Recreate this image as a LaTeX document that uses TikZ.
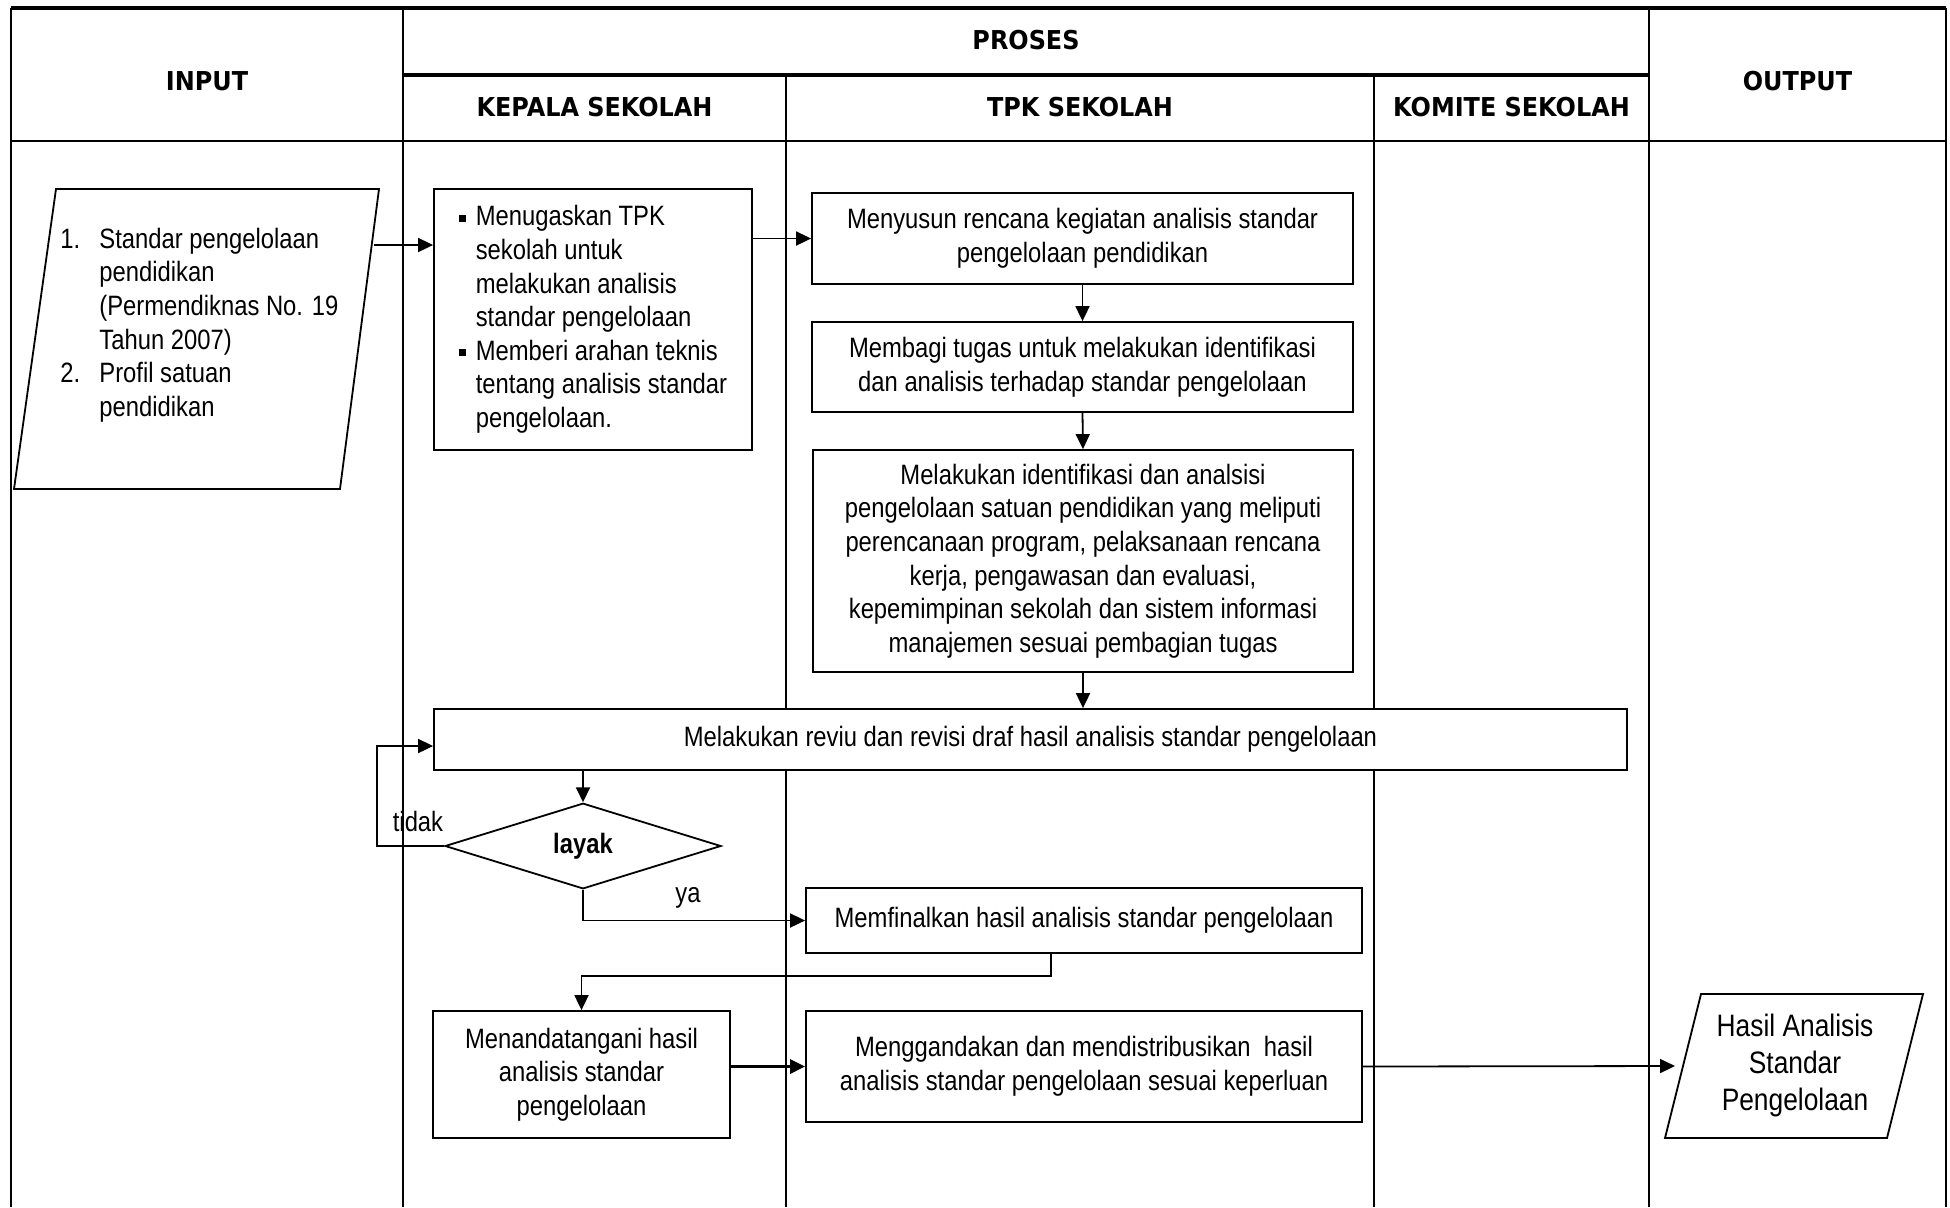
\documentclass[tikz,border=0pt]{standalone}
\usepackage{fontspec}
\setmainfont{Liberation Sans}[FakeStretch=0.85]
\newfontfamily\headfont{DejaVu Sans}[FakeStretch=0.92]
\usetikzlibrary{arrows.meta,shapes.geometric}
\newcommand{\bul}{\makebox[8.5pt][l]{\raisebox{0.28ex}{\rule{3.4pt}{3.4pt}}}}
\newcommand{\ind}{\hspace*{8.5pt}}
\newcommand{\numb}[1]{\makebox[19.5pt][l]{#1}}
\newcommand{\nind}{\hspace*{19.5pt}}
\begin{document}
\begin{tikzpicture}[x=0.5pt,y=-0.5pt,
  every node/.style={font=\fontsize{14}{16.8}\selectfont},
  hd/.style={font=\headfont\bfseries\fontsize{13}{15}\selectfont},
  box/.style={draw, fill=white, line width=0.9pt, inner sep=0pt, align=center},
  arr/.style={line width=0.9pt, -{Triangle[length=7.5pt,width=7pt]}},
  grid/.style={line width=0.9pt},
  thickgrid/.style={line width=2pt}]
\useasboundingbox (0,0) rectangle (1950,1207);
% table
\draw[thickgrid] (11,7.5) -- (1946,7.5);
\draw[thickgrid] (403,75) -- (1649,75);
\draw[grid] (11,141) -- (1946,141);
\draw[grid] (11,7.5) -- (11,1207);
\draw[grid] (403,7.5) -- (403,1207);
\draw[grid] (786,75) -- (786,1207);
\draw[grid] (1374,75) -- (1374,1207);
\draw[grid] (1649,7.5) -- (1649,1207);
\draw[grid] (1946,7.5) -- (1946,1207);
% headers
\node[hd] (hin) at (207,81) {INPUT};
\node[hd] (hproses) at (1026,40) {PROSES};
\node[hd] (hkepala) at (594.5,107) {KEPALA SEKOLAH};
\node[hd] (htpk) at (1080,107) {TPK SEKOLAH};
\node[hd] (hkomite) at (1511.5,107) {KOMITE SEKOLAH};
\node[hd] (hout) at (1797.5,81) {OUTPUT};
% input
\draw[line width=0.9pt, fill=white] (56,189) -- (379,189) -- (340,489) -- (14,489) -- cycle;
\node[anchor=west, align=left, inner sep=0pt] (intext) at (60,325)
  {\numb{1.}Standar pengelolaan\\ \nind pendidikan\\ \nind (Permendiknas No. 19\\ \nind Tahun 2007)\\ \numb{2.}Profil satuan\\ \nind pendidikan};
\coordinate (inR) at (374,245);
% kepala sekolah
\node[box, align=left, minimum width=159pt, minimum height=130.5pt] (k1) at (593,319.5)
  {\bul Menugaskan TPK\\ \ind sekolah untuk\\ \ind melakukan analisis\\ \ind standar pengelolaan\\ \bul Memberi arahan teknis\\ \ind tentang analisis standar\\ \ind pengelolaan.};
% tpk
\node[box, minimum width=270.5pt, minimum height=45.5pt] (t1) at (1082.5,238.5)
  {Menyusun rencana kegiatan analisis standar\\ pengelolaan pendidikan};
\node[box, minimum width=270.5pt, minimum height=45pt] (t2) at (1082.5,367)
  {Membagi tugas untuk melakukan identifikasi\\ dan analisis terhadap standar pengelolaan};
\node[box, minimum width=270pt, minimum height=111pt] (t3) at (1083,561)
  {Melakukan identifikasi dan analsisi\\ pengelolaan satuan pendidikan yang meliputi\\ perencanaan program, pelaksanaan rencana\\ kerja, pengawasan dan evaluasi,\\ kepemimpinan sekolah dan sistem informasi\\ manajemen sesuai pembagian tugas};
\node[box, minimum width=596.5pt, minimum height=30.5pt] (rev) at (1030.5,739.5)
  {Melakukan reviu dan revisi draf hasil analisis standar pengelolaan};
\node[draw, fill=white, line width=0.9pt, shape=diamond, inner sep=0pt, minimum width=138pt, minimum height=42.5pt, font=\bfseries\fontsize{14}{16.8}\selectfont] (dia) at (583,846) {layak};
\node (tidak) at (418,821) {tidak};
\node (ya) at (688,898) {ya};
\node[box, minimum width=278pt, minimum height=32.5pt] (memf) at (1084,920.5)
  {Memfinalkan hasil analisis standar pengelolaan};
\node[box, minimum width=148.5pt, minimum height=63.5pt] (mnd) at (581.5,1074.5)
  {Menandatangani hasil\\ analisis standar\\ pengelolaan};
\node[box, minimum width=278pt, minimum height=55.5pt] (mgd) at (1084,1066.5)
  {Menggandakan dan mendistribusikan\ \ hasil\\ analisis standar pengelolaan sesuai keperluan};
% output
\draw[line width=0.9pt, fill=white] (1701,994) -- (1923,994) -- (1887,1138) -- (1665,1138) -- cycle;
\node[align=center, font=\fontsize{15.5}{18.5}\selectfont] (outtext) at (1795,1065)
  {Hasil Analisis\\ Standar\\ Pengelolaan};
\coordinate (outL) at (1675,1066);
% connectors
\draw[arr] (inR) -- (k1.west |- inR);
\draw[arr] (k1.east |- t1.west) -- (t1.west);
\draw[arr] (t1.south) -- (t2.north);
\draw[arr] (t2.south) -- (t3.north);
\draw[arr] (t3.south) -- (t3.south |- rev.north);
\draw[arr] (rev.south -| dia.north) -- (dia.north);
\coordinate (tk) at (377,746);
\draw[arr] (dia.west) -| (tk) -- (rev.west |- tk);
\draw[arr] (dia.south) |- (memf.west);
\coordinate (mf1) at (1051,953);
\coordinate (mf2) at (1051,976);
\draw[arr] (mf1) -- (mf2) -| (mnd.north);
\draw[line width=1.5pt, -{Triangle[length=7.5pt,width=7pt]}] (mnd.east |- mgd.west) -- (mgd.west);
\draw[arr] (mgd.east) -- (outL);
\end{tikzpicture}
\end{document}
